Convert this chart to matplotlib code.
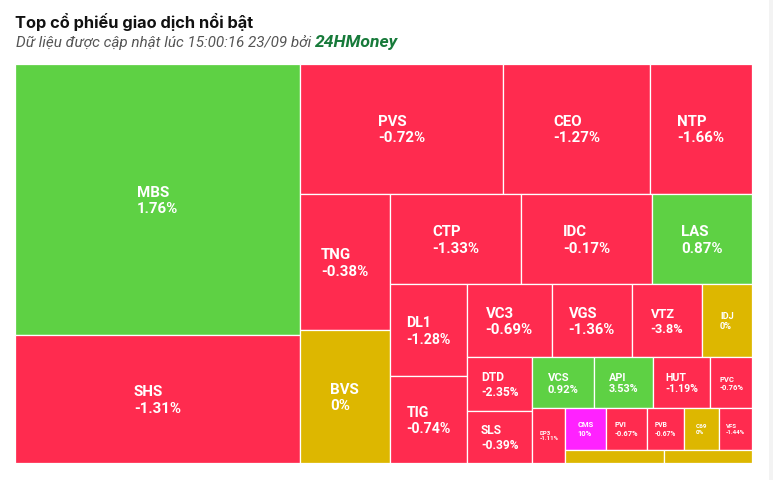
import matplotlib
matplotlib.use('Agg')
import matplotlib.pyplot as plt
from matplotlib.patches import Rectangle

# dữ liệu: mã cổ phiếu, giá trị giao dịch (tương đối) và % thay đổi
tickers = ['MBS', 'SHS', 'PVS', 'CEO', 'NTP', 'TNG', 'BVS', 'CTP', 'IDC', 'LAS',
           'DL1', 'TIG', 'VC3', 'VGS', 'VTZ', 'IDJ', 'DTD', 'SLS', 'VCS', 'API',
           'HUT', 'PVC', 'DP3', 'CMS', 'PVI', 'PVB', 'C69', 'VFS', '', '']
values = [771, 364, 265, 190, 133, 123, 120, 118, 118, 90,
          71, 67, 62, 59, 51, 37, 35, 34, 31, 30,
          29, 21, 18, 17.2, 17.2, 15.6, 14.6, 14.0, 12.9, 11.4]
changes = [1.76, -1.31, -0.72, -1.27, -1.66, -0.38, 0, -1.33, -0.17, 0.87,
           -1.28, -0.74, -0.69, -1.36, -3.8, 0, -2.35, -0.39, 0.92, 3.53,
           -1.19, -0.76, -1.11, 10, -0.67, -0.67, 0, -1.44, 0, 0]

GREEN = '#5ED144'
RED = '#FF2B4F'
YELLOW = '#DDB700'
PURPLE = '#FF22FF'


def color_of(c):
    if c >= 10:
        return PURPLE
    if c > 0:
        return GREEN
    if c < 0:
        return RED
    return YELLOW


def ratio(a, b):
    return max(a / b, b / a)


def place(items, d, x, y, w, h):
    # d = 0: cột dọc bên trái, d = 1: hàng ngang phía trên
    out = []
    s = sum(items)
    if d == 0:
        gw = s / h
        yy = y
        for a in items:
            out.append((x, yy, gw, a / gw))
            yy += a / gw
        return out, (x + gw, y, w - gw, h)
    gh = s / w
    xx = x
    for a in items:
        out.append((xx, y, a / gh, gh))
        xx += a / gh
    return out, (x, y + gh, w, h - gh)


def treemap(vals, W, H):
    total = sum(vals)
    areas = [v * W * H / total for v in vals]
    rects = []
    box = (0, 0, W, H)
    d = 0
    grp = []
    for a in areas:
        if grp:
            last = grp[-1]
            side = box[3] if d == 0 else box[2]
            t_old = sum(grp) / side
            t_new = (sum(grp) + a) / side
            if ratio(t_new, last / t_new) > ratio(t_old, last / t_old):
                out, box = place(grp, d, *box)
                rects += out
                d = 1 - d
                grp = []
        grp.append(a)
    out, box = place(grp, d, *box)
    rects += out
    return rects


W, H = 737, 399
fig = plt.figure(figsize=(7.73, 4.80), dpi=100)
fig.patch.set_facecolor('white')
ax = fig.add_axes([15 / 773, 17 / 480, W / 773, H / 480])
ax.set_xlim(0, W)
ax.set_ylim(H, 0)
ax.axis('off')

rects = treemap(values, W, H)
for (x, y, w, h), name, c in zip(rects, tickers, changes):
    ax.add_patch(Rectangle((x, y), w, h, facecolor=color_of(c),
                           edgecolor='white', linewidth=0.9))
    if name and h > 20:
        fs = min(10.8, 0.132 * w)
        ax.text(x + w / 2, y + h / 2 + fs * 0.12, f'{name}\n{c:g}%',
                ha='center', va='center', multialignment='left',
                color='white', fontsize=fs, fontweight='bold',
                family='Roboto', linespacing=1.22)

# tiêu đề
fig.text(15 / 773, 1 - 28 / 480, 'Top cổ phiếu giao dịch nổi bật',
         fontsize=11.8, fontweight='bold', family='Inter', color='#111111',
         va='baseline')
sub = fig.text(16 / 773, 1 - 47 / 480, 'Dữ liệu được cập nhật lúc 15:00:16 23/09 bởi ',
               fontsize=11, style='italic', family='Roboto', color='#555555',
               va='baseline')
fig.canvas.draw()
ax.annotate('24HMoney', xy=(1, 0), xycoords=sub, va='bottom', ha='left',
            fontsize=12.6, fontweight='bold', style='italic', family='Roboto',
            color='#177A3A', annotation_clip=False)

# viền thẻ bên phải
fig.add_artist(Rectangle((769 / 773, 0), 4 / 773, 1, transform=fig.transFigure,
                         facecolor='#F3F3F3', edgecolor='none'))

fig.savefig('out.png', dpi=100, facecolor='white')
